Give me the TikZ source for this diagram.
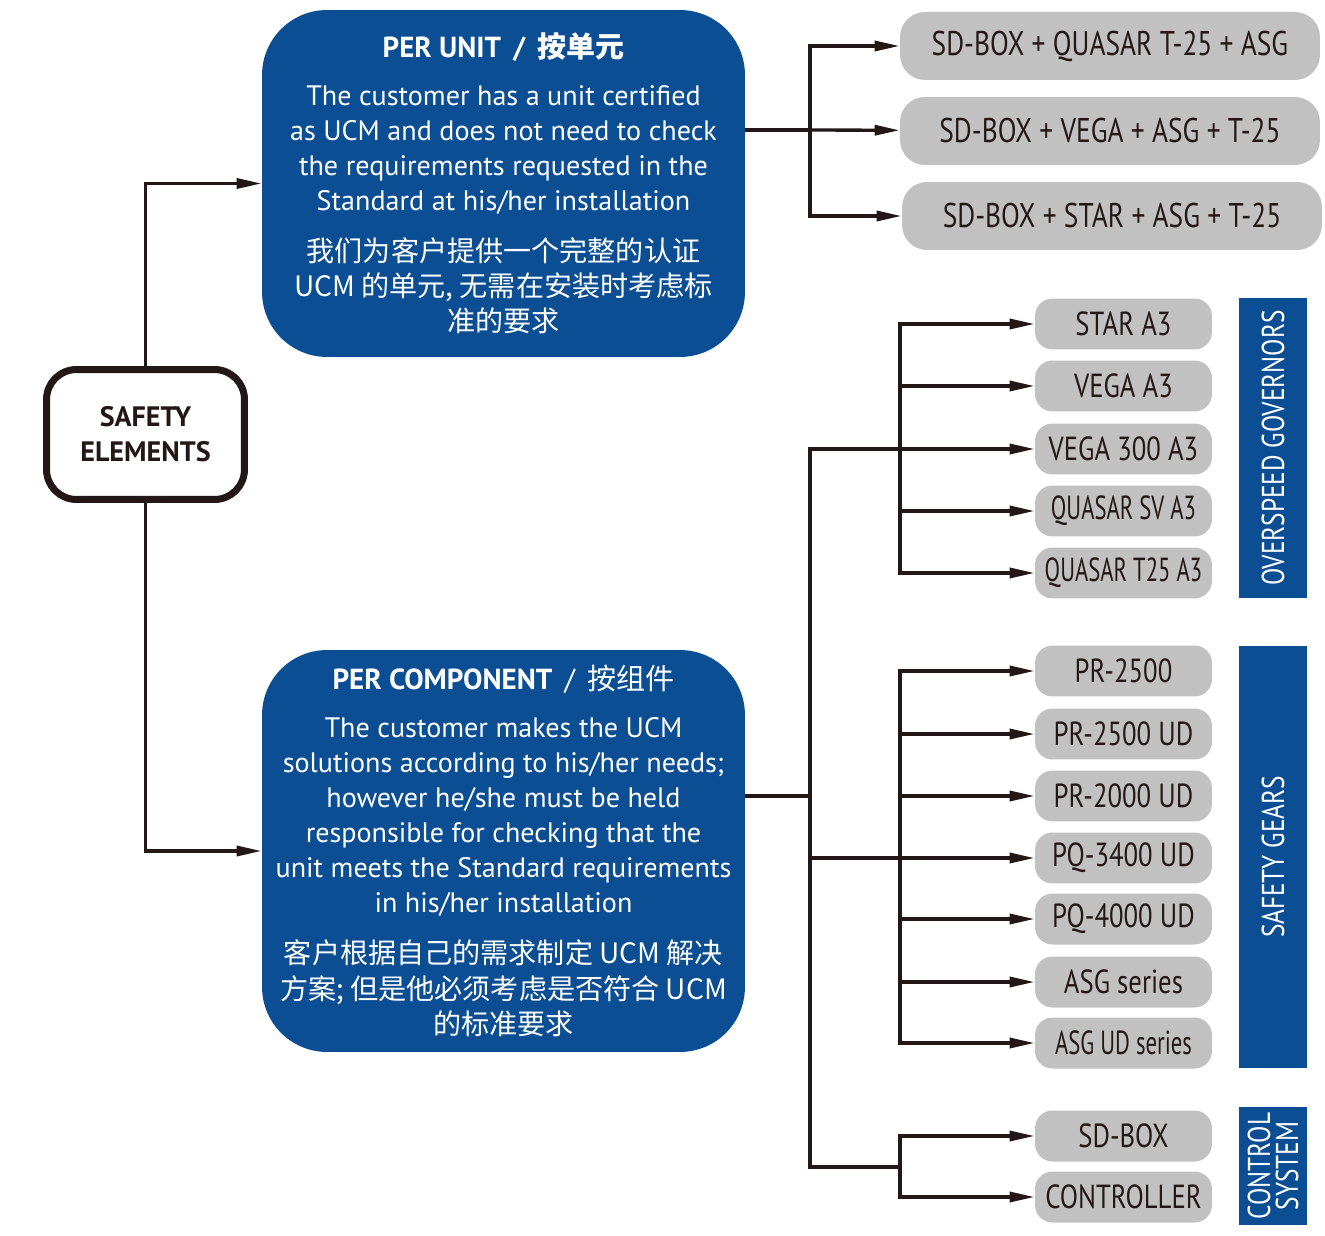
\documentclass[tikz,border=0pt]{standalone}
\usepackage{fontspec}
\setmainfont{PT Sans}
\newfontfamily\cjk{Noto Sans CJK SC}
\newfontfamily\cond[FakeStretch=0.8]{PT Sans}
\newfontfamily\condx[FakeStretch=0.68]{PT Sans}
\usepackage{tikz}
\usetikzlibrary{positioning}
\usetikzlibrary{arrows.meta}
\definecolor{ucmblue}{HTML}{0B4E94}
\definecolor{boxgrey}{HTML}{C2C1C2}
\definecolor{ink}{HTML}{231815}
\tikzstyle{safetybox} = [rectangle, rounded corners=0.6cm, minimum width=3.96cm, minimum height=2.6cm, align=center, draw=ink, line width=0.14cm, text=ink, font=\bfseries\fontsize{16}{20}\selectfont]
\tikzstyle{modebox} = [rectangle, rounded corners=1.3cm, minimum width=9.66cm, align=center, fill=ucmblue, text=white, font=\fontsize{16}{20}\selectfont]
\tikzstyle{combo} = [rectangle, rounded corners=0.5cm, minimum width=8.4cm, minimum height=1.36cm, fill=boxgrey, text=ink, font=\cond\fontsize{19.5}{22}\selectfont]
\tikzstyle{product} = [rectangle, rounded corners=0.35cm, minimum width=3.54cm, minimum height=1.02cm, inner xsep=0pt, fill=boxgrey, text=ink, font=\cond\fontsize{19}{22}\selectfont]
\tikzstyle{family} = [rectangle, rotate=90, minimum height=1.36cm, align=center, fill=ucmblue, text=white, font=\cond\fontsize{18}{16}\selectfont]
\tikzstyle{line} = [draw=ink, line width=1.9pt]
\tikzstyle{arrow} = [line, -{Triangle[length=0.5cm,width=0.2cm]}]

\begin{document}
\begin{tikzpicture}[x=0.02cm, y=-0.02cm]
\useasboundingbox (0,0) rectangle (1325,1236);

\node (safety) [safetybox] at (145.5,434.5) {SAFETY\\ELEMENTS};

\node (unit) [modebox, minimum height=6.94cm] at (503.5,183.5) {{\bfseries\fontsize{16.5}{20}\selectfont PER UNIT \,/\, {\cjk 按单元}}\\[0.24cm]
The customer has a unit certified\\ as UCM and does not need to check\\ the requirements requested in the\\ Standard at his/her installation\\[0.32cm]
{\cjk 我们为客户提供一个完整的认证}\\ {\cjk UCM 的单元, 无需在安装时考虑标}\\ {\cjk 准的要求}};
\node (comp) [modebox, minimum height=8.04cm] at (503.5,851) {{\bfseries\fontsize{16.5}{20}\selectfont PER COMPONENT} {\fontsize{16.5}{20}\selectfont \,/\, {\cjk 按组件}}\\[0.24cm]
The customer makes the UCM\\ solutions according to his/her needs;\\ however he/she must be held\\ responsible for checking that the\\ unit meets the Standard requirements\\ in his/her installation\\[0.32cm]
{\cjk 客户根据自己的需求制定 UCM 解决}\\ {\cjk 方案; 但是他必须考虑是否符合 UCM}\\ {\cjk 的标准要求}};

% per unit combinations
\node (combo1) [combo] at (1110,46) {SD-BOX + QUASAR T-25 + ASG};
\node (combo2) [combo] at (1110,131) {SD-BOX + VEGA + ASG + T-25};
\node (combo3) [combo] at (1112,216) {SD-BOX + STAR + ASG + T-25};

% overspeed governors
\node (star) [product] at (1123.5,324) {STAR A3};
\node (vega) [product] at (1123.5,386) {VEGA A3};
\node (vega300) [product] at (1123.5,449) {VEGA 300 A3};
\node (quasarsv) [product, font=\condx\fontsize{19}{22}\selectfont] at (1123.5,511) {QUASAR SV A3};
\node (quasart) [product, font=\condx\fontsize{19}{22}\selectfont] at (1123.5,573) {QUASAR T25 A3};

% safety gears
\node (pr2500) [product] at (1123.5,671) {PR-2500};
\node (pr2500ud) [product] at (1123.5,734) {PR-2500 UD};
\node (pr2000ud) [product] at (1123.5,796) {PR-2000 UD};
\node (pq3400ud) [product] at (1123.5,858) {PQ-3400 UD};
\node (pq4000ud) [product] at (1123.5,919) {PQ-4000 UD};
\node (asg) [product] at (1123.5,982) {ASG series};
\node (asgud) [product, font=\condx\fontsize{19}{22}\selectfont] at (1123.5,1043) {ASG UD series};

% control system
\node (sdbox) [product] at (1123.5,1136) {SD-BOX};
\node (controller) [product] at (1123.5,1197) {CONTROLLER};

\node (governors) [family, minimum width=6cm] at (1273,448) {OVERSPEED GOVERNORS};
\node (gears) [family, minimum width=8.44cm] at (1273,857) {SAFETY GEARS};
\node (control) [family, minimum width=2.24cm] at (1273,1166) {CONTROL\\SYSTEM};

\coordinate (unitfork) at (810,130);
\coordinate (compfork) at (810,796);
\coordinate (govbus) at (900,449);
\coordinate (gearbus) at (900,858);
\coordinate (ctrlbus) at (900,1167);

\draw [arrow] (safety.north) |- (unit.west);
\draw [arrow] (safety.south) |- (comp.west);

\draw [line] (unit.east |- unitfork) -- (unitfork);
\draw [arrow] (unitfork) |- (combo1);
\draw [arrow] (unitfork) -- (combo2);
\draw [arrow] (unitfork) |- (combo3);

\draw [line] (comp.east |- compfork) -- (compfork);
\draw [arrow] (compfork) |- (vega300);
\draw [arrow] (compfork) |- (pq3400ud);
\draw [line] (compfork) |- (ctrlbus);

\draw [arrow] (govbus) |- (star);
\draw [arrow] (govbus) |- (vega);
\draw [arrow] (govbus) |- (quasarsv);
\draw [arrow] (govbus) |- (quasart);

\draw [arrow] (gearbus) |- (pr2500);
\draw [arrow] (gearbus) |- (pr2500ud);
\draw [arrow] (gearbus) |- (pr2000ud);
\draw [arrow] (gearbus) |- (pq4000ud);
\draw [arrow] (gearbus) |- (asg);
\draw [arrow] (gearbus) |- (asgud);

\draw [arrow] (ctrlbus) |- (sdbox);
\draw [arrow] (ctrlbus) |- (controller);

\end{tikzpicture}
\end{document}
